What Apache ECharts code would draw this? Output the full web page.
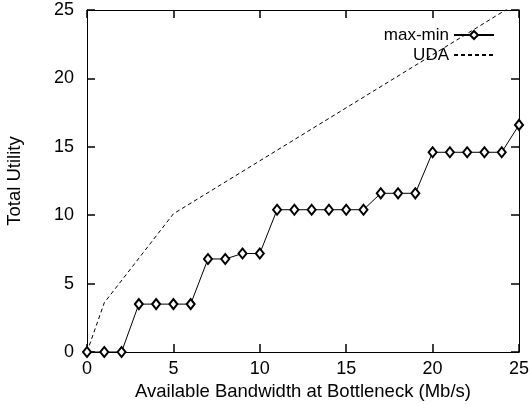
<!DOCTYPE html>
<html>
<head>
<meta charset="utf-8">
<script src="https://cdn.jsdelivr.net/npm/echarts@6/dist/echarts.min.js"></script>
<style>
  html, body { margin: 0; padding: 0; background: #fff; }
  #chart { width: 531px; height: 404px; }
</style>
</head>
<body>
<div id="chart"></div>
<script>
  // bandwidth steps (Mb/s)
  const bandwidth = [0, 1, 2, 3, 4, 5, 6, 7, 8, 9, 10, 11, 12, 13, 14, 15, 16, 17, 18, 19, 20, 21, 22, 23, 24, 25];
  // max-min utility at each step
  const maxMin = [0, 0, 0, 3.5, 3.5, 3.5, 3.5, 6.8, 6.8, 7.2, 7.2, 10.4, 10.4, 10.4, 10.4, 10.4, 10.4, 11.6, 11.6, 11.6, 14.6, 14.6, 14.6, 14.6, 14.6, 16.6];
  // UDA curve breakpoints
  const udaX = [0, 1, 5, 25];
  const udaY = [0, 3.6, 10.1, 25.6];
  const axisMin = 0;
  const axisMax = 25;

  const font = 'Liberation Sans, Arial, sans-serif';
  const tickLen = 8;
  const chart = echarts.init(document.getElementById('chart'));

  function makeAxis(position, extra) {
    const ax = {
      type: 'value',
      position: position,
      min: axisMin,
      max: axisMax,
      interval: 5,
      axisLine: { show: true, onZero: false, lineStyle: { color: '#000', width: 1 } },
      axisTick: { show: false },
      splitLine: { show: false },
      axisLabel: { show: false }
    };
    return Object.assign(ax, extra || {});
  }

  // tick-only axis pulled inside the frame, so its outward ticks point in
  function tickAxis(position) {
    return makeAxis(position, {
      offset: -tickLen,
      axisLine: { show: false, onZero: false },
      axisTick: { show: true, inside: false, length: tickLen, lineStyle: { color: '#000', width: 1.5 } }
    });
  }

  chart.setOption({
    backgroundColor: '#fff',
    animation: false,
    textStyle: { fontFamily: font },
    grid: { left: 87, right: 12, top: 10, bottom: 52, outerBoundsMode: 'none', containLabel: false },
    legend: {
      orient: 'vertical',
      right: 31,
      top: 20,
      align: 'right',
      itemWidth: 40,
      itemHeight: 10,
      itemGap: 0,
      textStyle: { fontFamily: font, fontSize: 17, lineHeight: 20, color: '#000' },
      data: [
        { name: 'max-min' },
        { name: 'UDA', itemStyle: { opacity: 0 } }
      ]
    },
    xAxis: [
      makeAxis('bottom', {
        name: 'Available Bandwidth at Bottleneck (Mb/s)',
        nameLocation: 'middle',
        nameGap: 27,
        nameTextStyle: { fontFamily: font, fontSize: 18.5, color: '#000' },
        axisLabel: { show: true, fontFamily: font, fontSize: 18, color: '#000', margin: 8 }
      }),
      makeAxis('top'),
      tickAxis('bottom'),
      tickAxis('top')
    ],
    yAxis: [
      makeAxis('left', {
        name: 'Total Utility',
        nameLocation: 'middle',
        nameGap: 63,
        nameTextStyle: { fontFamily: font, fontSize: 18.5, color: '#000' },
        axisLabel: { show: true, fontFamily: font, fontSize: 18, color: '#000', margin: 13 }
      }),
      makeAxis('right'),
      tickAxis('left'),
      tickAxis('right')
    ],
    series: [
      {
        name: 'max-min',
        type: 'line',
        data: bandwidth.map((x, i) => [x, maxMin[i]]),
        symbol: 'emptyDiamond',
        symbolSize: [8, 10],
        showAllSymbol: true,
        clip: false,
        lineStyle: { color: '#000', width: 1 },
        itemStyle: { color: '#000', borderWidth: 1 },
        z: 3
      },
      {
        name: 'UDA',
        type: 'line',
        data: udaX.map((x, i) => [x, udaY[i]]),
        symbol: 'none',
        clip: true,
        lineStyle: { color: '#000', width: 1, type: [4, 3] },
        itemStyle: { color: '#000' }
      }
    ]
  });
</script>
</body>
</html>
